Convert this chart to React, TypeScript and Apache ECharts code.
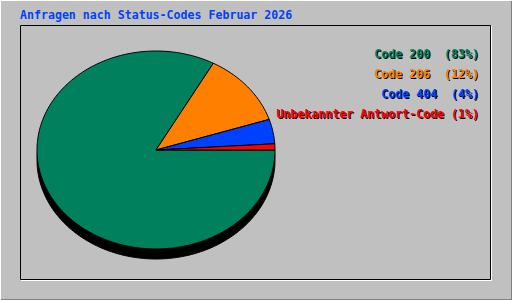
import React, { useEffect, useRef } from "react";
import * as echarts from "echarts";

const titleText = "Anfragen nach Status-Codes Februar 2026";
const categories = ["Code 200", "Code 206", "Code 404", "Unbekannter Antwort-Code"];
const values = [83, 12, 4, 1];
const legendLabels = ["Code 200  (83%)", "Code 206  (12%)", "Code 404  (4%)", "Unbekannter Antwort-Code (1%)"];
const colors = ["#00805C", "#FF8000", "#0040FF", "#FF0000"];

const W = 512;
const H = 300;
const CX = 156;
const CY = 150;
const RX = 119;
const RY = 99;
const DEPTH = 10;
const FONT = 'bold 11.6px "DejaVu Sans Mono"';

export default function App() {
  const ref = useRef<HTMLDivElement>(null);
  useEffect(() => {
    document.body.style.margin = "0";
    const chart = echarts.init(ref.current!, null, { renderer: "svg", width: W, height: H });
    const total = values.reduce((a, b) => a + b, 0);

    const ellipsePoints = (cx: number, cy: number, f0: number, f1: number, withCenter: boolean) => {
      const pts: number[][] = [];
      if (withCenter) pts.push([cx, cy]);
      const a0 = f0 * Math.PI * 2;
      const a1 = f1 * Math.PI * 2;
      const steps = Math.max(2, Math.ceil(((a1 - a0) * 180) / Math.PI));
      for (let k = 0; k <= steps; k++) {
        const a = a0 + ((a1 - a0) * k) / steps;
        pts.push([cx + RX * Math.cos(a), cy + RY * Math.sin(a)]);
      }
      return pts;
    };

    const graphics: any[] = [];
    // outer bevel
    graphics.push({ type: "line", shape: { x1: 0, y1: 0.5, x2: W, y2: 0.5 }, style: { stroke: "#FFFFFF", lineWidth: 1 }, z: 10 });
    graphics.push({ type: "line", shape: { x1: 0.5, y1: 0, x2: 0.5, y2: H }, style: { stroke: "#FFFFFF", lineWidth: 1 }, z: 10 });
    graphics.push({ type: "line", shape: { x1: 1, y1: H - 0.5, x2: W, y2: H - 0.5 }, style: { stroke: "#808080", lineWidth: 1 }, z: 10 });
    graphics.push({ type: "line", shape: { x1: W - 0.5, y1: 1, x2: W - 0.5, y2: H }, style: { stroke: "#808080", lineWidth: 1 }, z: 10 });
    // inner frame
    graphics.push({ type: "rect", shape: { x: 20.5, y: 25.5, width: 470, height: 254 }, style: { fill: "none", stroke: "#000000", lineWidth: 1 }, z: 0 });
    graphics.push({ type: "line", shape: { x1: 21, y1: 280.5, x2: 492, y2: 280.5 }, style: { stroke: "#FFFFFF", lineWidth: 1 }, z: 0 });
    graphics.push({ type: "line", shape: { x1: 491.5, y1: 26, x2: 491.5, y2: 281 }, style: { stroke: "#FFFFFF", lineWidth: 1 }, z: 0 });
    // title
    graphics.push({
      type: "text",
      style: { text: titleText, x: 20, y: 15, fill: "#0040FF", font: FONT, align: "left", verticalAlign: "middle" },
      z: 10,
    });
    // legend
    legendLabels.forEach((lab, i) => {
      const y = 54 + i * 20;
      graphics.push({
        type: "text",
        style: { text: lab, x: 480, y: y + 1, fill: "#000000", font: FONT, align: "right", verticalAlign: "middle" },
        z: 10,
      });
      graphics.push({
        type: "text",
        style: { text: lab, x: 479, y: y, fill: colors[i], font: FONT, align: "right", verticalAlign: "middle" },
        z: 11,
      });
    });

    chart.setOption({
      animation: false,
      backgroundColor: "#C0C0C0",
      graphic: { elements: graphics },
      series: [
        {
          type: "custom",
          coordinateSystem: "none",
          z: 1,
          silent: true,
          data: [0],
          renderItem: () => ({
            type: "polygon",
            shape: { points: ellipsePoints(CX, CY + DEPTH, 0, 1, false) },
            style: { fill: "#000000", stroke: "#000000", lineWidth: 1 },
          }),
        },
        {
          type: "custom",
          coordinateSystem: "none",
          name: "Status",
          z: 2,
          data: values.map((v, i) => ({ name: categories[i], value: v })),
          renderItem: (params: any, api: any) => {
            const i = params.dataIndex;
            const v = api.value(0);
            let before = 0;
            for (let k = 0; k < i; k++) before += values[k];
            const f0 = before / total;
            const f1 = (before + v) / total;
            return {
              type: "polygon",
              shape: { points: ellipsePoints(CX, CY, f0, f1, true) },
              style: { fill: colors[i], stroke: "#000000", lineWidth: 1 },
            };
          },
        },
      ],
    });
    return () => chart.dispose();
  }, []);
  return <div ref={ref} style={{ width: W, height: H }} />;
}
